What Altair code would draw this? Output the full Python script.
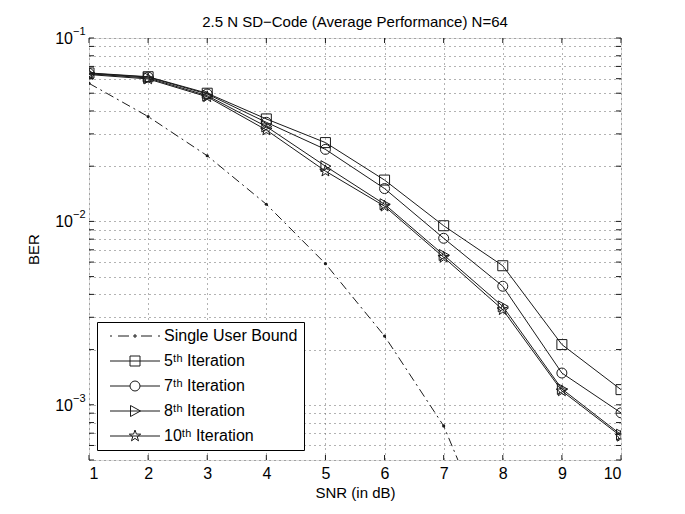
import altair as alt
import pandas as pd

# ---------------- data ----------------
snr = [1, 2, 3, 4, 5, 6, 7, 8, 9, 10]
single_snr = [1, 2, 3, 4, 5, 6, 7, 8]
single_ber = [0.0566, 0.0373, 0.0228, 0.0124, 0.00588, 0.00237, 0.000767, 0.00013]
iter5_ber = [0.0645, 0.0615, 0.0500, 0.0362, 0.0269, 0.0168, 0.00947, 0.00573, 0.00213, 0.00121]
iter7_ber = [0.0642, 0.0612, 0.0495, 0.0347, 0.0247, 0.0151, 0.00809, 0.00443, 0.00149, 0.000904]
iter8_ber = [0.0638, 0.0605, 0.0485, 0.0329, 0.0200, 0.0124, 0.00656, 0.00344, 0.00122, 0.000687]
iter10_ber = [0.0632, 0.0598, 0.0478, 0.0315, 0.0188, 0.0121, 0.00637, 0.00330, 0.00119, 0.000673]

series_names = ["Single User Bound", "5ᵗʰ Iteration", "7ᵗʰ Iteration", "8ᵗʰ Iteration", "10ᵗʰ Iteration"]
iter_names = series_names[1:]

y_grid_values = [0.0005, 0.0006, 0.0007, 0.0008, 0.0009,
                 0.001, 0.002, 0.003, 0.004, 0.005, 0.006, 0.007, 0.008, 0.009,
                 0.01, 0.02, 0.03, 0.04, 0.05, 0.06, 0.07, 0.08, 0.09, 0.1]
y_label_values = [0.1, 0.01, 0.001]
y_label_base = ["10", "10", "10"]
y_label_exp = ["−1", "−2", "−3"]

title_text = "2.5 N SD−Code (Average Performance) N=64"

# ---------------- styles ----------------
W, H = 532, 422
FONT = "Liberation Sans"
INK = "#1a1a1a"

marker_paths = [
    "M-5,-5H5V5H-5Z",
    "M-5,0A5,5 0 1,0 5,0A5,5 0 1,0 -5,0",
    "M-4.5,-5.5L5.5,0L-4.5,5.5Z",
    "M0,-6L1.41,-1.94L5.71,-1.85L2.28,0.74L3.53,4.85L0,2.4L-3.53,4.85L-2.28,0.74L-5.71,-1.85L-1.41,-1.94Z",
]
legend_paths = [
    "M-25,0H-23M-17,0H-6M-1,-1H1V1H-1ZM6,0H17M23,0H25",
    "M-25,0H25M-5,-5H5V5H-5Z",
    "M-25,0H-5M5,0H25M-5,0A5,5 0 1,0 5,0A5,5 0 1,0 -5,0",
    "M-25,0H25M-4.5,-5.5L5.5,0L-4.5,5.5Z",
    "M-25,0H25M0,-6L1.41,-1.94L5.71,-1.85L2.28,0.74L3.53,4.85L0,2.4L-3.53,4.85L-2.28,0.74L-5.71,-1.85L-1.41,-1.94Z",
]

# ---------------- tables ----------------
rows = []
for name, vals in zip(iter_names, [iter5_ber, iter7_ber, iter8_ber, iter10_ber]):
    for s, b in zip(snr, vals):
        rows.append({"snr": s, "ber": b, "series": name})
iter_df = pd.DataFrame(rows)
single_df = pd.DataFrame({"snr": single_snr, "ber": single_ber})
legend_df = pd.DataFrame({"series": series_names})
ytick_df = pd.DataFrame({"ber": y_grid_values})
xtick_df = pd.DataFrame({"snr": snr})
ylab_df = pd.DataFrame({"ber": y_label_values, "base": y_label_base, "exp": y_label_exp})

x_scale = alt.Scale(domain=[1, 10], nice=False, zero=False)
y_scale = alt.Scale(type="log", domain=[0.0005, 0.1], nice=False)

GRID_COLOR = "#666"
GRID_DASH = [1, 4]

x_axis = alt.Axis(values=snr, format="d", grid=True, gridDash=GRID_DASH, gridColor=GRID_COLOR,
                  gridWidth=1, ticks=False, domain=False, labelFontSize=16, labelPadding=5,
                  labelFont=FONT, labelColor="black", title="SNR (in dB)", titleFontSize=15,
                  titleFont=FONT, titleFontWeight="normal", titleColor="black", titlePadding=4)
y_axis = alt.Axis(values=y_grid_values, grid=True, gridDash=GRID_DASH, gridColor=GRID_COLOR,
                  gridWidth=1, ticks=False, domain=False, labels=False, title="BER",
                  titleFontSize=15, titleFont=FONT, titleFontWeight="normal",
                  titleColor="black", titlePadding=48)

X = alt.X("snr:Q", scale=x_scale, axis=x_axis)
Y = alt.Y("ber:Q", scale=y_scale, axis=y_axis)
Xp = alt.X("snr:Q", scale=x_scale)
Yp = alt.Y("ber:Q", scale=y_scale)

iter_lines = alt.Chart(iter_df).mark_line(color=INK, strokeWidth=1, clip=True).encode(
    x=X, y=Y, detail="series:N")
iter_points = alt.Chart(iter_df).mark_point(color=INK, filled=False, size=4, strokeWidth=1,
                                            opacity=1, clip=True).encode(
    x=Xp, y=Yp,
    shape=alt.Shape("series:N", scale=alt.Scale(domain=iter_names, range=marker_paths), legend=None))

single_line = alt.Chart(single_df).mark_line(color=INK, strokeWidth=1, strokeDash=[9, 4, 2, 4],
                                             clip=True).encode(x=Xp, y=Yp)
single_dots = alt.Chart(single_df).mark_point(color=INK, filled=True, shape="circle", size=10,
                                              opacity=1, clip=True).encode(x=Xp, y=Yp)

legend_layer = alt.Chart(legend_df).mark_point(filled=False, size=4, opacity=0).encode(
    x=alt.value(0), y=alt.value(0),
    shape=alt.Shape("series:N", sort=series_names,
                    scale=alt.Scale(domain=series_names, range=legend_paths),
                    legend=alt.Legend(orient="none", legendX=8, legendY=284, title=None,
                                      padding=6, strokeColor="black", fillColor="white",
                                      labelFontSize=16, labelFont=FONT, labelColor="black",
                                      symbolSize=4, symbolOffset=24, labelOffset=21,
                                      rowPadding=9, symbolStrokeColor=INK, symbolStrokeWidth=1,
                                      symbolFillColor="transparent", symbolOpacity=1,
                                      labelLimit=300)))

left_ticks = alt.Chart(ytick_df).mark_rule(color=INK).encode(
    y=Yp, x=alt.value(0), x2=alt.value(5))
right_ticks = alt.Chart(ytick_df).mark_rule(color=INK).encode(
    y=Yp, x=alt.value(W - 5), x2=alt.value(W))
bottom_ticks = alt.Chart(xtick_df).mark_rule(color=INK).encode(
    x=Xp, y=alt.value(H), y2=alt.value(H - 5))
top_ticks = alt.Chart(xtick_df).mark_rule(color=INK).encode(
    x=Xp, y=alt.value(0), y2=alt.value(5))

ylab_base = alt.Chart(ylab_df).mark_text(align="right", baseline="middle", fontSize=16,
                                         font=FONT, color="black", dy=1).encode(
    y=Yp, x=alt.value(-16), text="base:N")
ylab_exp = alt.Chart(ylab_df).mark_text(align="left", baseline="middle", fontSize=11,
                                        font=FONT, color="black", dy=-6).encode(
    y=Yp, x=alt.value(-16), text="exp:N")

chart = alt.layer(
    iter_lines, left_ticks, right_ticks, bottom_ticks, top_ticks,
    single_line, single_dots, iter_points, legend_layer, ylab_base, ylab_exp
).resolve_scale(shape="independent").properties(
    width=W, height=H,
    title=alt.TitleParams(text=title_text, fontSize=15, fontWeight="normal", font=FONT,
                          color="black", offset=-4, anchor="middle"),
    autosize=alt.AutoSizeParams(type="none"),
    padding={"left": 81, "top": 30, "right": 56, "bottom": 46},
).configure_view(stroke="black", strokeWidth=1).configure(background="white")

chart.save("out.html", embed_options={"renderer": "svg", "actions": False})
